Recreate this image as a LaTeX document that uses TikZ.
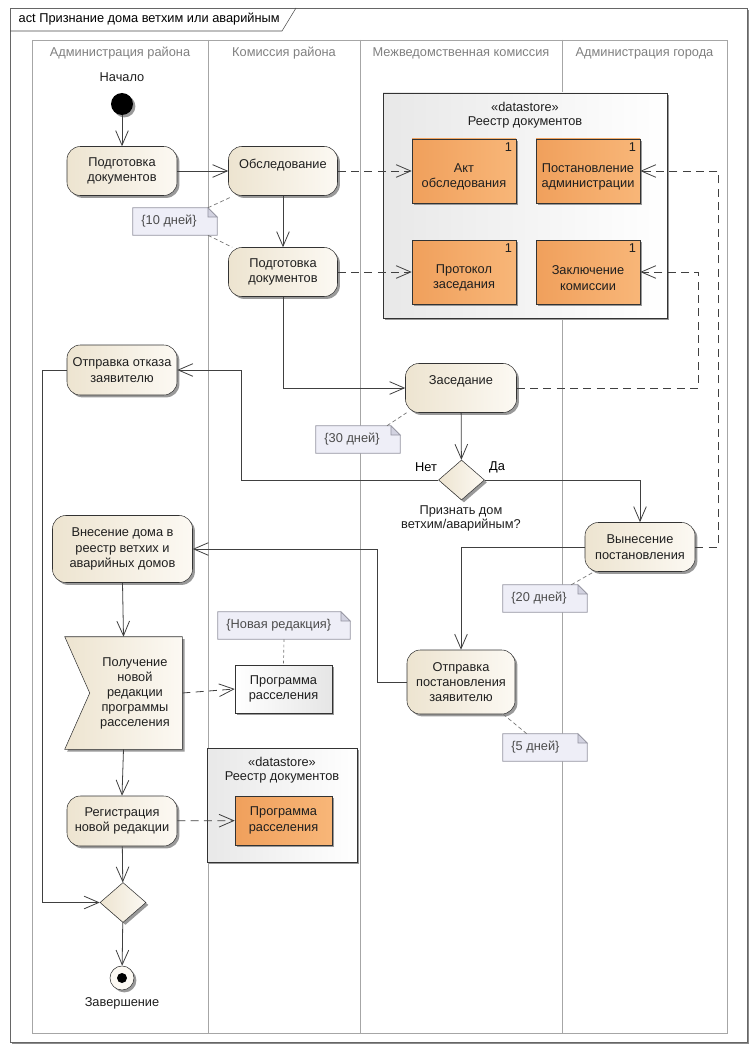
\documentclass[tikz,border=0pt]{standalone}
\usepackage{fontspec}
\setmainfont{Liberation Sans}
\usetikzlibrary{arrows.meta,shapes.geometric,shadows}

\definecolor{actlight}{RGB}{252,249,243}
\definecolor{actdark}{RGB}{237,228,208}
\definecolor{orglight}{RGB}{248,182,120}
\definecolor{orgdark}{RGB}{240,160,92}
\definecolor{notefill}{RGB}{238,238,247}
\definecolor{notegray}{RGB}{150,150,162}
\definecolor{foldfill}{RGB}{210,210,224}

\tikzset{
  txt/.style={font=\fontsize{9.6}{11.5}\selectfont, text=black!88},
  shdw/.style={drop shadow={shadow xshift=1.8pt, shadow yshift=-1.8pt, fill=black!40, opacity=1}},
  act/.style={txt, shdw, rectangle, rounded corners=10pt, draw=black!80, left color=actdark, right color=actlight,
    align=center, minimum width=82.5pt, minimum height=36.75pt, inner sep=2pt},
  obj/.style={txt, shdw, rectangle, draw=black!80, left color=orgdark, right color=orglight,
    align=center, minimum width=78pt, minimum height=48pt, inner sep=2pt},
  plainobj/.style={obj, left color=white, right color=black!10},
  store/.style={shdw, rectangle, draw=black!80, left color=black!9, right color=white, inner sep=0},
  storetitle/.style={txt, align=center, font=\fontsize{9.6}{10.5}\selectfont},
  decision/.style={shdw, diamond, draw=black!80, left color=actdark, right color=actlight,
    minimum width=34.5pt, minimum height=30pt, inner sep=0},
  startnode/.style={shdw, circle, fill=black, minimum size=16.5pt, inner sep=0},
  endnode/.style={shdw, circle, draw=black!80, fill=actlight, minimum size=18pt, inner sep=0,
    path picture={\fill[black] (path picture bounding box.center) circle (3.75pt);}},
  notebox/.style={minimum height=20.25pt, inner sep=0},
  noteline/.style={draw=notegray, fill=notefill, line width=0.5pt},
  lane/.style={draw=black!35, line width=0.6pt},
  ctrl/.style={draw=black!75, line width=0.6pt, -{Straight Barb[length=11pt,width=9.5pt]}},
  objflow/.style={ctrl, dash pattern=on 6pt off 4pt},
  notelink/.style={draw=black!55, line width=0.5pt, dash pattern=on 3pt off 2pt}
}

\begin{document}
\begin{tikzpicture}[x=0.75pt,y=-0.75pt]
  \useasboundingbox (0,0) rectangle (755,1052);
  % frame
  \fill[black!45] (12,10) rectangle (749,1044);
  \draw[black!60, fill=white] (10,8) rectangle (747,1042);
  \draw[black!70] (10,31) -- (282,31) -- (296,8);
  \node[txt, anchor=west, text=black] (title) at (14,19.5) {act Признание дома ветхим или аварийным};
  % lanes
  \draw[lane] (32,40) rectangle (727,1033);
  \foreach \x in {208,360,562}
    \draw[lane] (\x,40) -- (\x,1033);
  \foreach \nm/\x/\t in {L1/120/Администрация района, L2/284/Комиссия района,
      L3/461/Межведомственная комиссия, L4/644.5/Администрация города}{
    \node[txt, text=black!50] (\nm) at (\x,53) {\t};
  }
  % datastores
  \node[store, minimum width=213pt, minimum height=168.75pt] (DS1) at (525,205.5) {};
  \node[storetitle] (DS1t) at ([yshift=-16.5pt]DS1.north) {«datastore»\\Реестр документов};
  \foreach \nm/\x/\y/\t in {AKT/464/171/Акт\\обследования, POST/588/171/Постановление\\администрации,
      PROT/464/272/Протокол\\заседания, ZAK/588/272/Заключение\\комиссии}{
    \node[obj, label={[txt, align=center, yshift=-4.5pt]center:{\t}},
      label={[txt, anchor=north east, inner sep=3pt]north east:1}] (\nm) at (\x,\y) {};
  }
  \node[store, minimum width=112.5pt, minimum height=85.5pt] (DS2) at (282,805) {};
  \node[storetitle] (DS2t) at ([yshift=-16.5pt]DS2.north) {«datastore»\\Реестр документов};
  \node[obj, minimum width=72.75pt, minimum height=36.75pt] (PR2) at (283.5,820.5) {Программа\\расселения};
  \node[plainobj, minimum width=72.75pt, minimum height=36pt] (PR1) at (283.5,689) {Программа\\расселения};
  % notes
  \foreach \nm/\x/\y/\w/\t in {n10/175/221.5/84/10 дней, n30/358/439.5/84/30 дней, n20/545/598.5/84/20 дней,
      n5/545/747.5/84/5 дней, nnr/284/625.5/132/Новая редакция}{
    \node[notebox, minimum width=\w*0.75pt] (\nm) at (\x,\y) {};
    \draw[noteline] (\nm.north west) -- ([xshift=-7pt]\nm.north east) -- ([yshift=-7pt]\nm.north east)
      -- (\nm.south east) -- (\nm.south west) -- cycle;
    \draw[noteline, fill=foldfill] ([xshift=-7pt]\nm.north east) -- ([xshift=-7pt,yshift=-7pt]\nm.north east)
      -- ([yshift=-7pt]\nm.north east) -- cycle;
    \node[txt, text=black!70, anchor=west] at ([xshift=3pt]\nm.west) {\{\t\}};
  }
  % activities
  \node[startnode, label={[txt, label distance=5pt]above:Начало}] (S) at (122,104) {};
  \node[act] (A1) at (122,171) {Подготовка\\документов};
  \node[act, minimum width=81.75pt] (OB) at (283,171) {Обследование\\\mbox{}};
  \node[act, minimum width=81.75pt] (PD2) at (283,272) {Подготовка\\документов};
  \node[act, minimum height=37.5pt] (OTK) at (122,370) {Отправка отказа\\заявителю};
  \node[act, minimum width=83.25pt] (ZAS) at (461,388) {Заседание\\\mbox{}};
  \node[decision] (D1) at (461.5,480) {};
  \node[txt, text=black] (net) at (426,467) {Нет};
  \node[txt, text=black] (da) at (497,467) {Да};
  \node[txt, align=center, font=\fontsize{9.6}{10.5}\selectfont] (q) at (461,518) {Признать дом\\ветхим/аварийным?};
  \node[act] (VYN) at (640,547) {Вынесение\\постановления};
  \node[act, minimum width=81pt, minimum height=48pt] (OTP) at (461,682) {Отправка\\постановления\\заявителю};
  \node[act, minimum width=105pt, minimum height=50.25pt] (VNE) at (122.5,549) {Внесение дома в\\реестр ветхих и\\аварийных домов};
  \node[minimum width=87.75pt, minimum height=84pt, inner sep=0] (AE) at (123.5,693) {};
  \draw[shdw, draw=black!80, left color=actdark, right color=actlight] (AE.north west) -- (AE.north east)
    -- (AE.south east) -- (AE.south west) -- ([xshift=18.75pt]AE.west) -- cycle;
  \node[txt, align=center, font=\fontsize{9.6}{11.25}\selectfont] (AEt) at ([xshift=8.6pt]AE.center)
    {Получение\\новой\\редакции\\программы\\расселения};
  \node[act, minimum height=37.5pt] (REG) at (122,821) {Регистрация\\новой редакции};
  \node[decision] (D2) at (123,902.5) {};
  \node[endnode, label={[txt, label distance=2pt]below:Завершение}] (E) at (122,978) {};
  % control flows
  \draw[ctrl] (S) -- (A1);
  \draw[ctrl] (A1) -- (OB);
  \draw[ctrl] (OB) -- (PD2);
  \draw[ctrl] (PD2.south) |- (ZAS.west);
  \draw[ctrl] (ZAS) -- (D1);
  \draw[ctrl] (D1.west) -- ++(-197,0) |- (OTK.east);
  \draw[ctrl] (D1.east) -| (VYN.north);
  \draw[ctrl] (VYN.west) -| (OTP.north);
  \draw[ctrl] (OTP.west) -- ++(-29,0) |- (VNE.east);
  \draw[ctrl] (VNE.south) -- (AE.north);
  \draw[ctrl] (AE.south) -- (REG.north);
  \draw[ctrl] (REG) -- (D2);
  \draw[ctrl] (OTK.west) -- ++(-24,0) |- (D2.west);
  \draw[ctrl] (D2) -- (E);
  % object flows
  \draw[objflow] (OB) -- (AKT);
  \draw[objflow] (PD2) -- (PROT);
  \draw[objflow] (AE.east) -- (PR1.west);
  \draw[objflow] (REG) -- (PR2);
  \draw[objflow] (VYN.east) -- ++(23,0) |- (POST.east);
  \draw[objflow] (ZAS.east) -- ++(181.5,0) |- (ZAK.east);
  % note links
  \draw[notelink] ([xshift=-7pt]n10.north east) -- ([xshift=2pt,yshift=-1pt]OB.south west);
  \draw[notelink] ([xshift=-7pt]n10.south east) -- ([xshift=3pt]PD2.north west);
  \draw[notelink] ([xshift=-10pt]n30.north east) -- ([xshift=1pt]ZAS.south west);
  \draw[notelink] ([xshift=-12pt]n20.north east) -- ([xshift=7pt]VYN.south west);
  \draw[notelink] ([xshift=18pt]n5.north west) -- ([xshift=-9pt]OTP.south east);
  \draw[notelink, dash pattern=on 2pt off 2pt] (nnr.south) -- (PR1.north);
\end{tikzpicture}
\end{document}
